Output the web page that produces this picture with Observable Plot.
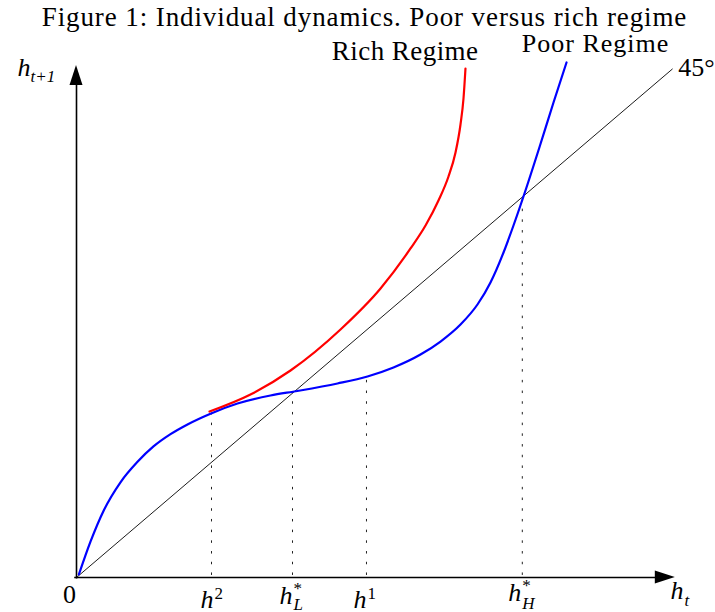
<!DOCTYPE html>
<html>
<head>
<meta charset="utf-8">
<script src="https://cdn.jsdelivr.net/npm/d3@7"></script>
<script src="https://cdn.jsdelivr.net/npm/@observablehq/plot@0.6"></script>
<style>
  body { margin: 0; background: #fff; }
  #chart svg { display: block; }
  #chart svg text { font-family: "Liberation Serif", "Times New Roman", serif !important; }
</style>
</head>
<body>
<div id="chart"></div>
<script>
// ---- Data (h_t on x, h_{t+1} on y, both 0..100) ----
const poorX = [0.4, 2.33, 4.5, 7.33, 10.17, 12.83, 15.67, 18.5, 22.33, 26.83, 32.33, 36.83, 43.5, 48.5, 52.83, 57.33, 60.67, 64, 66.83, 69, 71.17, 72.83, 74.83, 77.33, 79.5, 81.67];
const poorY = [0.6, 7.0, 13.0, 18.6, 22.6, 25.6, 28.0, 29.9, 32.0, 33.98, 35.55, 36.43, 37.89, 39.26, 41.02, 43.55, 46.09, 49.41, 53.32, 57.62, 63.48, 68.75, 75.59, 84.67, 92.77, 100.59];
const richX = [22.17, 29.0, 35.67, 44.0, 50.67, 55.67, 58.17, 60.33, 62.0, 63.17, 64.0, 64.5, 64.83];
const richY = [32.42, 35.74, 40.43, 48.44, 56.45, 64.26, 68.75, 73.63, 78.32, 83.01, 88.48, 93.55, 99.41];
const diagX = [0, 99.3];
const diagY = [0, 99.3];
// thresholds / steady states: h^2, h_L^*, h^1, h_H^*
const markerNames = ["h2", "hL", "h1", "hH"];
const markerX = [22.5, 36, 48.33, 74.3];
const markerTopY = [32.1, 36.3, 39.2, 74.2];
const axisEndX = 99.8;
const axisEndY = 100;

const titleText = "Figure 1: Individual dynamics. Poor versus rich regime";
const richLabel = "Rich Regime";
const poorLabel = "Poor Regime";
const diagLabel = "45°";

// ---- build tables ----
const poor = poorX.map((x, i) => ({x, y: poorY[i]}));
const rich = richX.map((x, i) => ({x, y: richY[i]}));
const diag = diagX.map((x, i) => ({x, y: diagY[i]}));
const markers = markerNames.map((name, i) => ({name, x: markerX[i], top: markerTopY[i]}));
const mk = name => markers.find(d => d.name === name);

const FONT = "Liberation Serif";
const BIG = 26, SMALL = 17;

function txt(datum, text, opts) {
  return Plot.text([datum], {
    x: "x", y: "y", text: () => text,
    fontFamily: FONT, fontSize: BIG, lineAnchor: "bottom", fill: "black",
    ...opts
  });
}

const arrowHeads = (index, {x, y}) => {
  const g = d3.create("svg:g");
  const tx = x(axisEndX), ty = y(0);
  g.append("path").attr("d", `M${tx},${ty}L${tx - 20},${ty - 6.5}L${tx - 20},${ty + 6.5}Z`).attr("fill", "black");
  const ux = x(0), uy = y(axisEndY);
  g.append("path").attr("d", `M${ux},${uy}L${ux - 6.5},${uy + 20}L${ux + 6.5},${uy + 20}Z`).attr("fill", "black");
  return g.node();
};

const origin = {x: 0, y: 0};
const xEnd = {x: 100, y: 0};
const yEnd = {x: 0, y: 100};

const chart = Plot.plot({
  width: 715,
  height: 612,
  marginLeft: 76,
  marginRight: 39,
  marginTop: 65,
  marginBottom: 35,
  x: {domain: [0, 100], axis: null},
  y: {domain: [0, 100], axis: null},
  style: {background: "white", overflow: "visible"},
  marks: [
    // dotted guides
    Plot.ruleX(markers, {x: "x", y1: 0.4, y2: "top", stroke: "#222", strokeWidth: 1, strokeDasharray: "2.5,8.2"}),
    // axes
    Plot.ruleY([0], {x1: -0.3, x2: axisEndX - 3.3, stroke: "black", strokeWidth: 1.6}),
    Plot.ruleX([0], {y1: -0.3, y2: axisEndY - 3.9, stroke: "black", strokeWidth: 1.6}),
    arrowHeads,
    // 45 degree line
    Plot.line(diag, {x: "x", y: "y", stroke: "black", strokeWidth: 0.9}),
    // curves
    Plot.line(poor, {x: "x", y: "y", stroke: "#0000ff", strokeWidth: 2.2, curve: "monotone-x"}),
    Plot.line(rich, {x: "x", y: "y", stroke: "#ff0000", strokeWidth: 2.2, curve: "monotone-x"}),
    // title
    Plot.text([titleText], {frameAnchor: "top", text: d => d, dx: -12, dy: -40, lineAnchor: "bottom", fontFamily: FONT, fontSize: 27, fill: "black"}),
    // curve labels
    txt(rich[rich.length - 1], richLabel, {textAnchor: "end", dx: 13, dy: -9, fontSize: 27}),
    txt(poor[poor.length - 1], poorLabel, {textAnchor: "middle", dx: 29, dy: -10, fontSize: 26}),
    txt(diag[diag.length - 1], diagLabel, {textAnchor: "start", dx: 6, dy: 7}),
    // axis labels
    txt(origin, "0", {textAnchor: "middle", dx: -7, dy: 25}),
    txt(xEnd, "h", {textAnchor: "start", dx: -6, dy: 21, fontStyle: "italic"}),
    txt(xEnd, "t", {textAnchor: "start", dx: 8, dy: 28, fontStyle: "italic", fontSize: SMALL}),
    txt(yEnd, "h", {textAnchor: "end", dx: -46, dy: 10, fontStyle: "italic"}),
    txt(yEnd, "t+1", {textAnchor: "start", dx: -46, dy: 16, fontStyle: "italic", fontSize: SMALL}),
    // tick labels
    txt({x: mk("h2").x, y: 0}, "h", {textAnchor: "end", dx: 2, dy: 30, fontStyle: "italic"}),
    txt({x: mk("h2").x, y: 0}, "2", {textAnchor: "start", dx: 3, dy: 21, fontSize: SMALL}),
    txt({x: mk("hL").x, y: 0}, "h", {textAnchor: "end", dx: 0, dy: 26, fontStyle: "italic"}),
    txt({x: mk("hL").x, y: 0}, "*", {textAnchor: "start", dx: 1, dy: 16, fontSize: SMALL}),
    txt({x: mk("hL").x, y: 0}, "L", {textAnchor: "start", dx: 1, dy: 32, fontStyle: "italic", fontSize: SMALL}),
    txt({x: mk("h1").x, y: 0}, "h", {textAnchor: "end", dx: 0, dy: 30, fontStyle: "italic"}),
    txt({x: mk("h1").x, y: 0}, "1", {textAnchor: "start", dx: 1, dy: 21, fontSize: SMALL}),
    txt({x: mk("hH").x, y: 0}, "h", {textAnchor: "end", dx: -1, dy: 23, fontStyle: "italic"}),
    txt({x: mk("hH").x, y: 0}, "*", {textAnchor: "start", dx: 0, dy: 13, fontSize: SMALL}),
    txt({x: mk("hH").x, y: 0}, "H", {textAnchor: "start", dx: 0, dy: 31, fontStyle: "italic", fontSize: SMALL})
  ]
});
// widen the serif labels slightly to match the wider Computer Modern originals
const spacing = new Map([[titleText, "0.9px"], [richLabel, "0.45px"], [poorLabel, "1px"]]);
d3.select(chart).selectAll("text").each(function() {
  const s = spacing.get(this.textContent);
  if (s) this.style.letterSpacing = s;
});
document.getElementById("chart").appendChild(chart);
</script>
</body>
</html>
